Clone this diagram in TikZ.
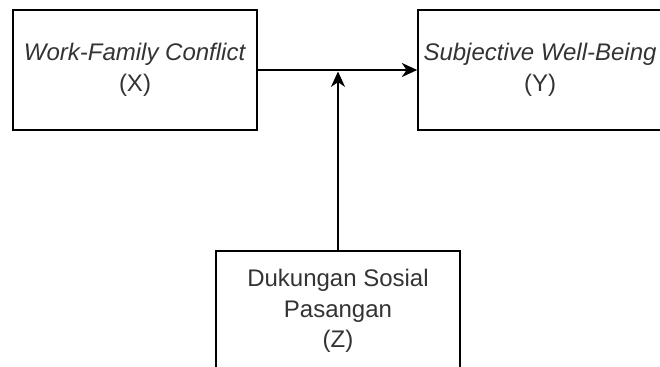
\documentclass[tikz,border=0pt]{standalone}
\usepackage{fontspec}
\setmainfont{Liberation Sans}
\usetikzlibrary{arrows.meta,calc}
\definecolor{txtgray}{HTML}{333333}
\begin{document}
\begin{tikzpicture}[x=0.75pt,y=-0.75pt,
  varbox/.style={draw=black,line width=1.2pt,minimum width=183pt,minimum height=90pt,
    inner sep=0pt,align=center,text=txtgray,font=\fontsize{18}{23}\selectfont},
  conn/.style={line width=1.2pt,-{Stealth[length=11.5pt,width=10.5pt,inset=3.5pt]}}]
\clip (0,0) rectangle (660,367);
\path[use as bounding box] (0,0) rectangle (660,367);
\node[varbox] (x) at (135,70) {\textit{Work-Family Conflict}\\(X)};
\node[varbox] (y) at (540,70) {\textit{Subjective Well-Being}\\(Y)};
\node[varbox] (z) at (338,311) {Dukungan Sosial\\Pasangan\\(Z)};
\coordinate (m) at ($(z.north |- x.east)+(0,1.5)$);
\draw[conn] (x.east) -- (y.west);
\draw[conn] (z.north) -- (m);
\end{tikzpicture}
\end{document}
